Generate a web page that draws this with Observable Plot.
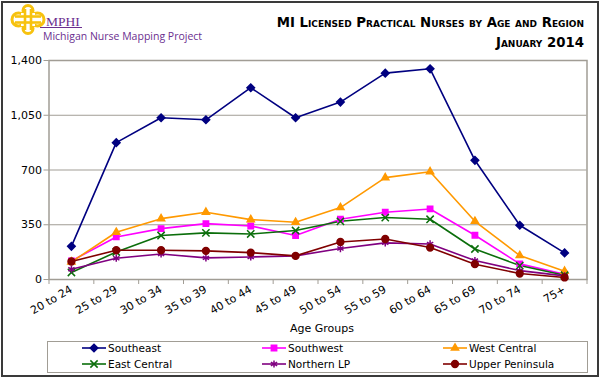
<!DOCTYPE html>
<html><head><meta charset="utf-8">
<script src="https://cdn.jsdelivr.net/npm/d3@7"></script>
<script src="https://cdn.jsdelivr.net/npm/@observablehq/plot@0.6"></script>
<style>
body{margin:0;background:#fff;}
#wrap{position:relative;width:600px;height:378px;overflow:hidden;font-family:"DejaVu Sans",Verdana,sans-serif;background:#fff;}
#chart{position:absolute;left:0;top:0;}
#logo{position:absolute;left:0;top:0;}
#title{position:absolute;right:16px;top:13px;text-align:right;font-weight:bold;font-variant:small-caps;font-size:13.3px;line-height:20px;color:#000;white-space:nowrap;}
#legend{position:absolute;left:46.5px;top:340.5px;width:539px;height:30px;border:1px solid #a19d95;}
.item{position:absolute;display:flex;align-items:center;font-size:10.5px;color:#000;white-space:nowrap;}
.item svg{margin-right:2px;}
#border{position:absolute;left:1px;top:1px;width:594px;height:372px;border:2px solid #3a3a3a;pointer-events:none;}
</style></head><body>
<div id="wrap">
  <div id="chart"></div>
  <svg id="logo" width="240" height="56">
    <g fill="none" stroke="#f7c20f" stroke-width="3">
      <circle cx="18.5" cy="19.5" r="6.5"/>
      <circle cx="37.5" cy="19.5" r="6.5"/>
      <circle cx="28" cy="10.5" r="5"/>
      <circle cx="28" cy="28.5" r="5"/>
    </g>
    <rect x="21" y="13" width="14" height="13" fill="#fff"/>
    <g stroke="#f7c20f" stroke-width="2.6">
      <line x1="25" y1="9" x2="25" y2="30"/>
      <line x1="31" y1="9" x2="31" y2="30"/>
      <line x1="15" y1="16.5" x2="41" y2="16.5"/>
      <line x1="15" y1="22.5" x2="41" y2="22.5"/>
    </g>
    <line x1="40" y1="27.5" x2="82" y2="27.5" stroke="#6b2f8f" stroke-width="1.2"/>
    <text x="46" y="25.5" font-family="Liberation Serif" font-size="13.5" fill="#6b2f8f">MPHI</text>
    <text x="43" y="39.5" font-family="Open Sans" font-size="10.5" fill="#6b2f8f">Michigan Nurse Mapping Project</text>
  </svg>
  <div id="title">MI Licensed Practical Nurses by Age and Region<br>January 2014</div>
  <div id="legend"></div>
  <div id="border"></div>
</div>
<script>
const ageGroups = ["20 to 24","25 to 29","30 to 34","35 to 39","40 to 44","45 to 49","50 to 54","55 to 59","60 to 64","65 to 69","70 to 74","75+"];
const regions = ["Southeast","Southwest","West Central","East Central","Northern LP","Upper Peninsula"];
const colors = ["#000080","#ff00ff","#ff9900","#0b6e0b","#800080","#800000"];
const symbols = ["diamond2","square2","triangle2","times","asterisk","circle"];
const yTicks = [0, 350, 700, 1050, 1400];

const southeast      = [212, 875, 1034, 1021, 1226, 1034, 1134, 1319, 1347, 762, 347, 170];
const southwest      = [119, 272, 325, 357, 342, 281, 385, 430, 451, 283, 100, 34];
const westCentral    = [112, 302, 389, 430, 383, 366, 460, 651, 689, 372, 153, 53];
const eastCentral    = [45, 176, 281, 298, 291, 313, 372, 396, 385, 195, 89, 27];
const northernLP     = [66, 136, 163, 138, 144, 151, 198, 234, 227, 121, 57, 23];
const upperPeninsula = [115, 187, 187, 183, 172, 151, 240, 259, 204, 98, 38, 13];

const series = [southeast, southwest, westCentral, eastCentral, northernLP, upperPeninsula];
const rows = series.flatMap((vals, s) => vals.map((v, i) => ({region: regions[s], i, value: v})));
const idx = d3.range(ageGroups.length);
const bounds = d3.range(ageGroups.length + 1).map(i => i - 0.5);
const grey = "#a19d95";

const plot = Plot.plot({
  width: 600, height: 378,
  marginTop: 60, marginBottom: 99, marginLeft: 48.5, marginRight: 13.5,
  style: {fontFamily: "DejaVu Sans, Verdana, sans-serif", fontSize: "11px", color: "#000", background: "transparent", overflow: "visible"},
  x: {type: "linear", domain: [-0.5, ageGroups.length - 0.5]},
  y: {domain: [0, 1400]},
  color: {domain: regions, range: colors},
  symbol: {domain: regions, range: symbols},
  marks: [
    Plot.gridY(yTicks, {stroke: grey, strokeOpacity: 1, strokeWidth: 1}),
    Plot.frame({stroke: grey, strokeWidth: 1.5}),
    Plot.axisY(yTicks, {tickSize: 5, tickPadding: 2, tickFormat: d3.format(","), label: null, stroke: grey}),
    Plot.axisX(bounds, {tickSize: 5, tickFormat: () => "", label: null, stroke: grey}),
    Plot.axisX(idx, {tickSize: 0, tickRotate: -30, tickPadding: 9, tickFormat: i => ageGroups[i], label: null}),
    Plot.text(["Age Groups"], {frameAnchor: "bottom", dy: 52, dx: 4, lineAnchor: "bottom", fontSize: 11}),
    Plot.line(rows, {x: "i", y: "value", z: "region", stroke: "region", strokeWidth: 1.6}),
    Plot.dot(rows, {x: "i", y: "value", symbol: "region", fill: "region", stroke: "region", strokeWidth: 1.5, r: 3.4})
  ]
});
document.getElementById("chart").appendChild(plot);

// legend
const legend = document.getElementById("legend");
const colX = [82, 262, 443];
const rowY = [347.5, 363.5];
const symMap = {diamond2: d3.symbolDiamond2, square2: d3.symbolSquare2, triangle2: d3.symbolTriangle2, times: d3.symbolTimes, asterisk: d3.symbolAsterisk, circle: d3.symbolCircle};
regions.forEach((name, k) => {
  const c = k % 3, r = Math.floor(k / 3);
  const div = document.createElement("div");
  div.className = "item";
  div.style.left = (colX[c] - 47.5) + "px";
  div.style.top = (rowY[r] - 341.5 - 7) + "px";
  div.style.height = "14px";
  const path = d3.symbol(symMap[symbols[k]], Math.PI * 3.4 * 3.4)();
  div.innerHTML = `<svg width="24" height="14"><line x1="0" y1="7" x2="24" y2="7" stroke="${colors[k]}" stroke-width="1.6"/><path d="${path}" transform="translate(12,7)" fill="${colors[k]}" stroke="${colors[k]}" stroke-width="1.5"/></svg><span>${name}</span>`;
  legend.appendChild(div);
});
</script>
</body></html>
